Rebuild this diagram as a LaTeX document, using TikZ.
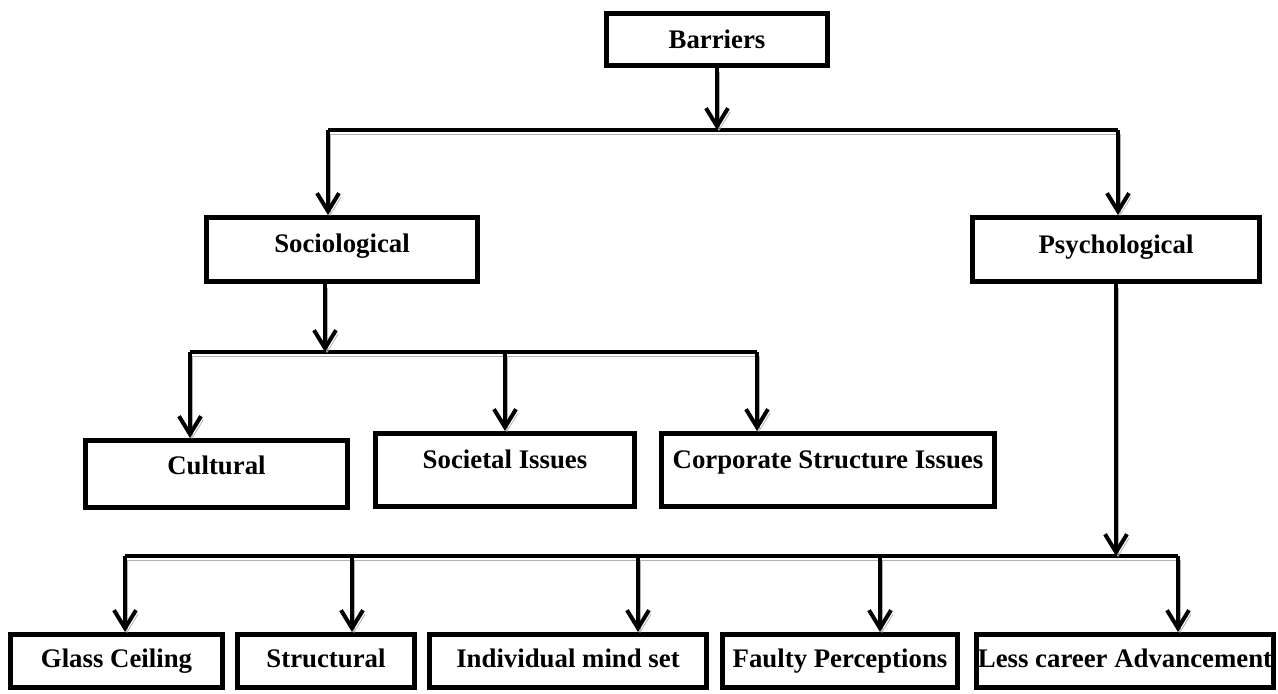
\documentclass[tikz,border=0pt]{standalone}
\usepackage{fontspec}
\setmainfont{Liberation Serif}
\usetikzlibrary{arrows.meta}

\begin{document}
\begin{tikzpicture}[
        x=0.5pt, y=-0.5pt,
        every node/.style={font=\fontsize{13.4}{15}\selectfont\bfseries},
        box/.style 2 args={draw, rectangle, line width=2.5pt, fill=white, inner sep=0pt,
            text height=0.9em, text depth=0.24em,
            minimum width=#1*0.5pt, minimum height=#2*0.5pt},
        lift/.style={text depth=0.24em+#1},
        link/.style={line width=2pt,
            preaction={draw=gray!60, transform canvas={shift={(1pt,-2pt)}}}},
        arr/.style={link, -{Straight Barb[length=9pt, width=11pt]}}
    ]
        \useasboundingbox (0,0) rectangle (1278,693);

        % boxes
        \node[box={221}{52}, lift=-2.5pt] (B) at (717,39.5) {Barriers};
        \node[box={271}{64}, lift=4pt] (Soc) at (342,249.5) {Sociological};
        \node[box={287}{64}, lift=3pt] (Psy) at (1116,249.5) {Psychological};
        \node[box={262}{67}, lift=6pt] (Cul) at (216.5,474) {Cultural};
        \node[box={259}{73}, lift=8pt] (Sty) at (505,470) {Societal Issues};
        \node[box={333}{73}, lift=8pt] (Cor) at (828,470) {Corporate Structure Issues};
        \node[box={212}{53}] (Gla) at (116.5,661) {Glass Ceiling};
        \node[box={177}{53}] (Str) at (326,661) {Structural};
        \node[box={277}{53}] (Ind) at (568,661) {Individual mind set};
        \node[box={235}{53}] (Fau) at (840,661) {Faulty Perceptions};
        \node[box={297}{53}] (Les) at (1125,661) {Less career Advancement};

        % top level
        \coordinate (t1) at (328,130);
        \coordinate (t2) at (1118,130);
        \draw[link] (t1) -- (t2);
        \draw[arr] (B) -- (B |- t1);
        \draw[arr] (t1) -- (t1 |- Soc.north);
        \draw[arr] (t2) -- (t2 |- Psy.north);

        % sociological
        \coordinate (s0) at (325,352);
        \coordinate (s1) at (190,352);
        \coordinate (s2) at (757,352);
        \draw[link] (s1) -- (s2);
        \draw[arr] (s0 |- Soc.south) -- (s0);
        \draw[arr] (s1) -- (s1 |- Cul.north);
        \draw[arr] (Sty.north |- s1) -- (Sty.north);
        \draw[arr] (s2) -- (s2 |- Cor.north);

        % psychological
        \coordinate (p1) at (125,556);
        \coordinate (p2) at (1178,556);
        \draw[link] (p1) -- (p2);
        \draw[arr] (Psy.south) -- (Psy.south |- p1);
        \foreach \x/\n in {125/Gla, 352/Str, 638/Ind, 880/Fau, 1178/Les} {
            \coordinate (p\n) at (\x,556);
            \draw[arr] (p\n) -- (p\n |- \n.north);
        }
    \end{tikzpicture}
\end{document}
